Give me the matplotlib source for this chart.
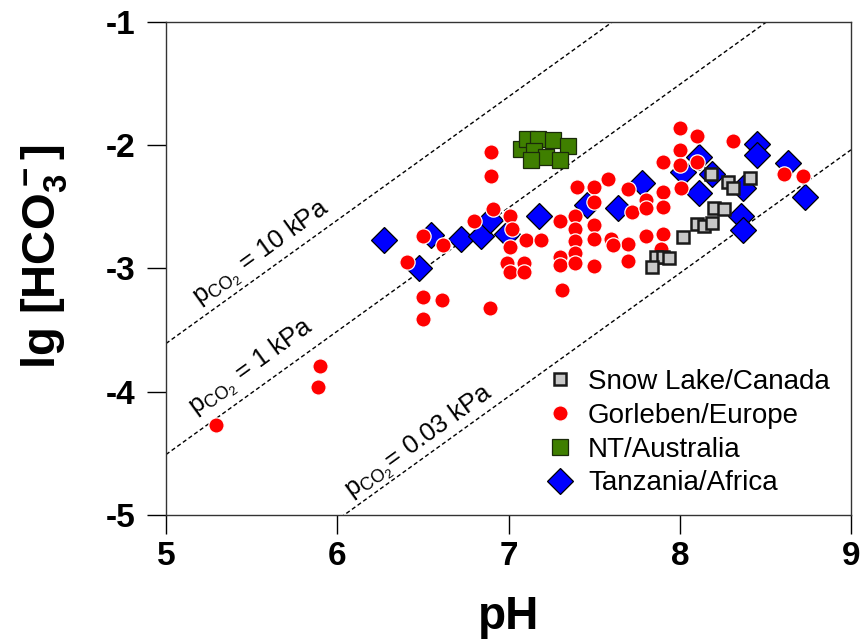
#!/usr/bin/env python3
"""lg[HCO3-] against pH for four groundwater regions, with pCO2 isolines."""

import numpy as np
import matplotlib
matplotlib.use("Agg")
import matplotlib.pyplot as plt

plt.rcParams["font.family"] = ["Liberation Sans", "DejaVu Sans"]
plt.rcParams["mathtext.default"] = "regular"
plt.rcParams["axes.unicode_minus"] = False

# Snow Lake / Canada
snow_ph = [8.18, 8.28, 8.31, 8.41, 8.20, 8.26, 8.10, 8.14, 8.19, 8.02,
           7.86, 7.90, 7.94, 7.84]
snow_hco3 = [-2.24, -2.30, -2.35, -2.27, -2.51, -2.52, -2.64, -2.66, -2.63, -2.75,
             -2.91, -2.91, -2.92, -2.99]

# Gorleben / Europe
gor_ph = [6.90, 6.90, 6.91, 6.80, 7.01, 7.02, 7.01, 7.10, 7.19, 6.99,
          7.01, 7.09, 7.09, 7.30, 7.30, 7.30, 7.31, 7.39, 7.39, 7.39,
          7.39, 7.39, 7.40, 7.50, 7.58, 7.50, 7.50, 7.50, 7.60, 7.50,
          7.70, 7.72, 7.80, 7.80, 7.90, 7.90, 7.70, 7.80, 7.90, 7.89,
          7.70, 7.90, 8.00, 8.00, 8.00, 8.10, 8.10, 8.01, 8.31, 8.61,
          8.72, 6.50, 6.62, 6.41, 6.50, 6.61, 6.50, 6.89, 5.90, 5.89,
          5.29, 7.61]
gor_hco3 = [-2.06, -2.25, -2.52, -2.62, -2.58, -2.68, -2.83, -2.77, -2.77, -2.96,
            -3.03, -2.96, -3.03, -2.62, -2.91, -2.97, -3.18, -2.58, -2.68, -2.78,
            -2.88, -2.96, -2.34, -2.34, -2.28, -2.46, -2.65, -2.76, -2.76, -2.98,
            -2.36, -2.54, -2.45, -2.51, -2.38, -2.50, -2.80, -2.74, -2.72, -2.84,
            -2.94, -2.14, -1.86, -2.04, -2.16, -1.93, -2.14, -2.35, -1.97, -2.24,
            -2.25, -2.74, -2.81, -2.95, -3.23, -3.26, -3.41, -3.32, -3.79, -3.96,
            -4.27, -2.81]

# NT / Australia
nt_ph = [7.07, 7.11, 7.17, 7.26, 7.35, 7.15, 7.22, 7.30, 7.13]
nt_hco3 = [-2.03, -1.95, -1.95, -1.96, -2.01, -2.05, -2.10, -2.12, -2.12]

# Tanzania / Africa
tz_ph = [6.27, 6.55, 6.48, 6.72, 6.84, 6.89, 6.99, 7.18, 7.46, 7.64,
         7.78, 8.02, 8.11, 8.11, 8.19, 8.37, 8.45, 8.45, 8.63, 8.73,
         8.36, 8.37]
tz_hco3 = [-2.77, -2.73, -3.00, -2.76, -2.74, -2.61, -2.72, -2.58, -2.49, -2.51,
           -2.31, -2.22, -2.10, -2.39, -2.24, -2.35, -1.99, -2.08, -2.15, -2.42,
           -2.58, -2.69]

# isolines: lg[HCO3-] = pH + offset
iso_offsets = [-8.61, -9.51, -11.04]
iso_labels = [r"p$_{CO_2}$ = 10 kPa", r"p$_{CO_2}$ = 1 kPa", r"p$_{CO_2}$= 0.03 kPa"]
iso_label_ph = [5.56, 5.50, 6.48]
iso_label_lift = [0.17, 0.20, 0.15]


def main():
    fig = plt.figure(figsize=(8.66, 6.44), dpi=100)
    ax = fig.add_axes([0.1917, 0.2003, 0.7910, 0.7663])

    xs = np.array([5.0, 9.0])
    for off, lab, lx, lift in zip(iso_offsets, iso_labels, iso_label_ph, iso_label_lift):
        ax.plot(xs, xs + off, color="black", lw=1.0, ls=(0, (3, 2)), zorder=1)
        ax.text(lx, lx + off + lift, lab, fontsize=18.5, rotation=45,
                transform_rotates_text=True, rotation_mode="anchor",
                ha="center", va="center", zorder=2)

    h_tz, = ax.plot(tz_ph, tz_hco3, ls="none", marker="D", ms=13.5,
                    mfc="#0000ff", mec="black", mew=0.9, zorder=3,
                    label="Tanzania/Africa")
    h_gor, = ax.plot(gor_ph, gor_hco3, ls="none", marker="o", ms=11,
                     mfc="#ff0000", mec="white", mew=0.9, zorder=4,
                     label="Gorleben/Europe")
    h_snow, = ax.plot(snow_ph, snow_hco3, ls="none", marker="s", ms=8.5,
                      mfc="#c8c8c8", mec="#1a1a1a", mew=1.8, zorder=5,
                      label="Snow Lake/Canada")
    h_nt, = ax.plot(nt_ph, nt_hco3, ls="none", marker="s", ms=11.5,
                    mfc="#3f7f00", mec="#1a2a0a", mew=0.9, zorder=5,
                    label="NT/Australia")

    ax.set_xlim(5, 9)
    ax.set_ylim(-5, -1)
    ax.set_xticks([5, 6, 7, 8, 9])
    ax.set_yticks([-5, -4, -3, -2, -1])
    ax.tick_params(direction="out", length=14, width=1.0, labelsize=24)
    ax.tick_params(axis="x", pad=5)
    ax.tick_params(axis="y", pad=8)
    for lbl in ax.get_xticklabels() + ax.get_yticklabels():
        lbl.set_fontweight("bold")
    for sp in ax.spines.values():
        sp.set_color("#333333")
        sp.set_linewidth(1.0)

    ax.set_xlabel("pH", fontsize=33, fontweight="bold", labelpad=16)
    ax.set_ylabel(r"lg [HCO$_3^-$]", fontsize=34, fontweight="bold")
    ax.yaxis.set_label_coords(-0.14, 0.523)

    ax.legend(handles=[h_snow, h_gor, h_nt, h_tz], loc="lower right",
              bbox_to_anchor=(0.985, 0.015), frameon=False, fontsize=20,
              handlelength=1.0, handletextpad=0.5, labelspacing=0.28,
              borderaxespad=0.0)

    fig.savefig("out.png", dpi=100)


if __name__ == "__main__":
    main()
